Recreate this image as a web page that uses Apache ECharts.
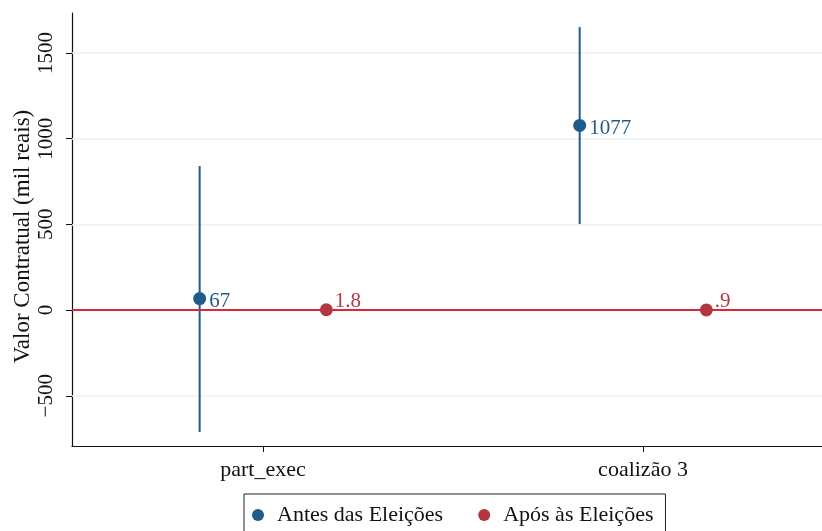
<!DOCTYPE html>
<html>
<head>
<meta charset="utf-8">
<script src="https://cdn.jsdelivr.net/npm/echarts@6/dist/echarts.min.js"></script>
<style>
  html, body { margin: 0; padding: 0; background: #fff; }
  #chart { width: 822px; height: 531px; }
</style>
</head>
<body>
<div id="chart"></div>
<script>
// Coefficients with confidence intervals, two periods per term
const categories = ['part_exec', 'coalizão 3'];
const seriesNames = ['Antes das Eleições', 'Após às Eleições'];
const antesValues = [67, 1077];
const antesLower = [-712, 502];
const antesUpper = [840, 1651];
const aposValues = [1.8, 0.9];
const yTicks = [-500, 0, 500, 1000, 1500];
const catPositions = [1, 2];
const groupOffset = 1 / 6;

const BLUE = '#1f5b8b';
const RED = '#b2373f';
const FONT = 'Liberation Serif';

function points(vals, off) {
  return vals.map((v, i) => [catPositions[i] + off, v]);
}
function intervals(lo, hi, off) {
  return lo.map((l, i) => [catPositions[i] + off, l, hi[i]]);
}

function ciRenderer(color) {
  return function (params, api) {
    const x = api.value(0);
    const p1 = api.coord([x, api.value(1)]);
    const p2 = api.coord([x, api.value(2)]);
    return {
      type: 'line',
      shape: { x1: p1[0], y1: p1[1], x2: p2[0], y2: p2[1] },
      style: { stroke: color, lineWidth: 2 }
    };
  };
}

const chart = echarts.init(document.getElementById('chart'));
chart.setOption({
  animation: false,
  backgroundColor: '#fff',
  textStyle: { fontFamily: FONT },
  grid: { left: 72, top: 13, bottom: 85, right: 0, containLabel: false, outerBoundsMode: 'none' },
  legend: {
    data: seriesNames.map(n => ({ name: n, icon: 'circle' })),
    left: 244, top: 494,
    padding: [10, 12, 10, 8],
    itemWidth: 12, itemHeight: 12, itemGap: 35,
    borderColor: '#222', borderWidth: 1,
    textStyle: { fontFamily: FONT, fontSize: 22, color: '#111', padding: [0, 0, 0, 8] }
  },
  xAxis: {
    type: 'value', min: 0.4974, max: 2.471,
    axisLine: { show: true, onZero: false, lineStyle: { color: '#111', width: 1.2 } },
    axisTick: { show: true, length: 6, customValues: catPositions, lineStyle: { color: '#111' } },
    axisLabel: {
      customValues: catPositions,
      formatter: v => categories[catPositions.indexOf(v)] || '',
      fontFamily: FONT, fontSize: 22, color: '#111', margin: 13
    },
    splitLine: { show: false }
  },
  yAxis: {
    type: 'value', min: -793, max: 1733,
    name: 'Valor Contratual (mil reais)',
    nameLocation: 'middle', nameRotate: 90, nameGap: 38, nameMoveOverlap: false,
    nameTextStyle: { fontFamily: FONT, fontSize: 23, color: '#111', padding: [0, 14, 0, 0] },
    axisLine: { show: true, onZero: false, lineStyle: { color: '#111', width: 1.2 } },
    axisTick: { show: true, length: 6, customValues: yTicks, lineStyle: { color: '#111' } },
    axisLabel: {
      customValues: yTicks, rotate: 90,
      formatter: v => (v < 0 ? '\u2212' + Math.abs(v) : String(v)),
      fontFamily: FONT, fontSize: 21, color: '#111', margin: 15
    },
    splitLine: { show: false }
  },
  series: [
    {
      // horizontal grid lines at the y ticks
      type: 'line', data: [], silent: true, z: 0,
      markLine: {
        silent: true, symbol: 'none', animation: false, z: 1,
        label: { show: false },
        lineStyle: { color: '#eaf1f2', width: 1.5, type: 'solid' },
        data: yTicks.filter(t => t !== 0).map(t => ({ yAxis: t }))
      }
    },
    {
      type: 'custom', name: seriesNames[0], renderItem: ciRenderer(BLUE),
      data: intervals(antesLower, antesUpper, -groupOffset),
      encode: { x: 0, y: [1, 2] }, z: 3, itemStyle: { color: BLUE }
    },
    {
      // zero reference line
      type: 'line', data: [], silent: true, z: 4,
      markLine: {
        silent: true, symbol: 'none', animation: false, z: 4,
        label: { show: false },
        lineStyle: { color: '#d9283c', width: 2, type: 'solid' },
        data: [{ yAxis: 0 }]
      }
    },
    {
      type: 'scatter', name: seriesNames[0], z: 6,
      data: points(antesValues, -groupOffset),
      symbol: 'circle', symbolSize: 13,
      itemStyle: { color: BLUE, opacity: 1 },
      label: {
        show: true, position: 'right', distance: 3, offset: [0, 3],
        formatter: p => String(p.value[1]),
        color: BLUE, fontFamily: FONT, fontSize: 21
      }
    },
    {
      type: 'scatter', name: seriesNames[1], z: 6,
      data: points(aposValues, groupOffset),
      symbol: 'circle', symbolSize: 13,
      itemStyle: { color: RED, opacity: 1 },
      label: {
        show: true, position: 'right', distance: 2, offset: [0, -8],
        formatter: p => String(p.value[1]).replace(/^0\./, '.'),
        color: RED, fontFamily: FONT, fontSize: 21
      }
    }
  ]
});
</script>
</body>
</html>
